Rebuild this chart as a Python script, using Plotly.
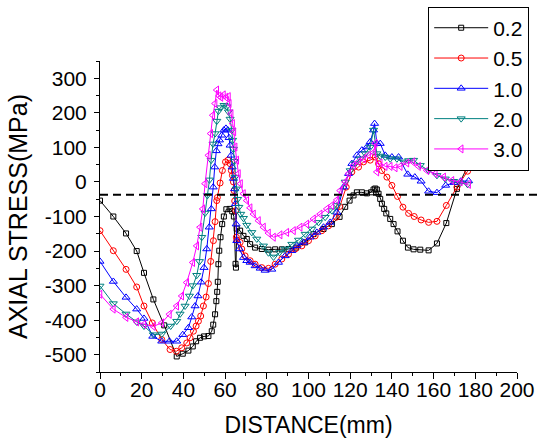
import plotly.graph_objects as go

# ---- data ----
series_names = ["0.2", "0.5", "1.0", "2.0", "3.0"]

x_02 = [0, 6.4, 12.5, 17.6, 21.1, 25.6, 30.8, 36.8, 39.7, 42.4, 44.5, 46.1, 48, 49.9, 52, 53.6,
        54.3, 55.2, 55.8, 56.2, 56.5, 56.8, 57.2, 57.8, 58.6, 59.4, 60.6, 62.2, 63.4, 64.2, 65.0,
        65.2, 65.6, 67.2, 68.8, 70.4, 72, 74.4, 77.6, 80.8, 84, 87.2, 90.4, 94.1, 98.4, 102.4,
        107.2, 111.2, 114.9, 117.6, 119.7, 121.6, 123.2, 125.6, 128, 130, 131.2, 132, 132.8,
        133.6, 134.4, 135.2, 136.3, 137.3, 139.2, 140.8, 142.7, 145.3, 147.7, 150.4, 153.6,
        157.6, 161.6, 166.1, 171.2, 176.3]
y_02 = [-54, -100, -149, -200, -263, -340, -415, -505, -497, -488, -476, -461, -451, -447, -446, -432,
        -413, -383, -345, -318, -289, -238, -199, -160, -122, -100, -79, -78, -85, -100, -237,
        -248, -135, -141, -156, -165, -180, -190, -194, -196, -195, -195, -194, -190, -175, -151,
        -136, -122, -101, -72, -54, -39, -30, -30, -33, -30, -22, -19, -22,
        -34, -49, -63, -78, -91, -107, -122, -143, -170, -190, -195, -196,
        -198, -178, -119, -20, 45]

x_05 = [0, 6.4, 12.5, 17.6, 21.1, 25.1, 29.6, 33.6, 36.6, 39.2, 41.6, 43.2, 44.8, 46.1, 47.2, 48.3,
        49.6, 50.9, 52, 53.1, 54.4, 55.2, 56, 56.3, 57.6, 58.7, 60.2, 61.4, 62.4, 63, 63.5, 64,
        64.3, 64.6, 65.1, 65.4, 65.6, 67.2, 68, 69.6, 72, 74.4, 77.6, 80.8, 84, 87.2, 90.4, 93.6,
        96.8, 100, 103.2, 106.4, 109.6, 113.3, 114.9, 118.1, 120.8, 124, 126.4, 129.6, 132,
        133.6, 135.2, 137.6, 140, 142.7, 145.3, 148, 150.7, 154, 157.6, 161.6, 166.1, 171.2, 176.3]
y_05 = [-141, -199, -253, -304, -359, -408, -456, -485, -490, -480, -466, -451, -432, -417, -403, -388,
        -359, -333, -294, -230, -170, -115, -54, -45, -3, 33, 58, 63, 53, 33, 19, 0,
        -25, -55, -83, -160, -168, -175, -194, -214, -228, -238, -248, -250, -238, -223, -209, -194,
        -185, -170, -156, -141, -127, -102, -71, -15, 29, 43, 58, 63, 72,
        53, 33, 14, -10, -42, -73, -91, -100, -110, -117, -114, -68, -15, 31]

x_10 = [0, 6.4, 12.5, 17.6, 21.1, 25.3, 29.6, 33.3, 36.8, 39.7, 42.4, 44, 45.6, 47, 48.5, 49.9,
        51.2, 52.4, 53.4, 54.3, 55, 55.8, 56.6, 57.3, 58.4, 59.4, 60.4, 61.3, 61.9, 62.4, 62.9,
        63.4, 64, 64.6, 65, 65.3, 65.6, 66.9, 68.8, 70.4, 72, 74.4, 76.8, 79.2, 82.4, 85.6, 88.8,
        92, 94.4, 97.6, 100.8, 104, 107.2, 110.4, 113.6, 116.8, 119.2, 120.8, 123.2, 125.6, 128,
        129.6, 131.2, 131.7, 132.8, 134.4, 136.8, 140, 143.2, 147.6, 151, 154, 157.6, 161.6,
        165.8, 169.8, 173, 176.8]
y_10 = [-230, -288, -334, -368, -395, -447, -461, -461, -461, -442, -422, -391, -359, -330, -290, -248,
        -194, -131, -78, -15, 43, 90, 110, 121, 135, 150, 155, 150, 128, 106, 77,
        43, 10, -20, -63, -122, -170, -194, -219, -228, -233, -243, -250, -256, -253, -233, -214,
        -199, -185, -175, -160, -146, -131, -117, -88, -15, 24, 53, 77, 92, 101,
        116, 150, 169, 111, 111, 77, 72, 72, 22, 14, 2, -27, -31,
        -10, -2, 2, 3]

x_20 = [0, 6.4, 12.5, 17.6, 21.1, 25.6, 29.6, 33.9, 36.8, 38.4, 40.8, 42.9, 44.5, 46.4, 47.7, 48.8,
        50.4, 51.5, 52.5, 53.3, 54.2, 55.2, 56, 56.8, 57.7, 59.5, 60.8, 61.6, 62.4, 63.2, 63.6,
        64, 64.4, 64.8, 65.4, 66, 66.6, 67.5, 68.8, 70.4, 72.8, 75.2, 78.4, 80.8, 83.2, 86.1,
        88.8, 92, 95.2, 98.4, 101.6, 104.8, 108, 111.2, 113.6, 117.6, 120, 122.4, 124.8, 127.2,
        129.6, 131.2, 132.8, 134.4, 136.8, 139.2, 142.4, 145.6, 148, 150.4, 153.6, 157.6, 161.6,
        165.6, 169.6, 172.8, 176.3]
y_20 = [-301, -352, -382, -405, -417, -442, -440, -417, -403, -382, -359, -330, -300, -270, -230, -160,
        -90, -39, 6, 63, 110, 140, 176, 205, 215, 222, 218, 203, 182, 150, 121,
        95, 60, 14, -20, -50, -73, -93, -105, -125, -146, -165, -185, -205, -217, -204,
        -194, -180, -168, -151, -136, -117, -102, -83, -68, 0, 33, 53, 67, 82,
        101, 150, 82, 75, 72, 67, 67, 58, 62, 63, 48, 33, 19,
        9, 2, -3, -7]

x_30 = [0, 6.4, 12.5, 17.6, 21.1, 25.6, 29.6, 33.3, 36.8, 39.2, 41.6, 44.5, 46.4, 48, 49.3, 50.4,
        52, 53.1, 54.1, 55.2, 56, 57.1, 58, 59.2, 60.4, 61.6, 62, 62.9, 63.6, 64.2, 64.8, 65.6,
        66.4, 67.4, 68.8, 70.4, 72, 73.6, 76, 78.4, 80.8, 83.2, 86.4, 89.6, 92.8, 96, 99.2,
        102.4, 105.6, 108.8, 111.2, 113.6, 115.2, 117.6, 119.2, 121.6, 124, 126.4, 128.8, 131.2,
        132, 132.8, 134.4, 136.8, 139.2, 141.6, 144, 147.2, 150.1, 152.8, 156.8, 160.8, 164.8,
        168.8, 172.8, 176.8]
y_30 = [-325, -368, -392, -405, -412, -418, -408, -383, -359, -330, -291, -233, -185, -131, -78, -5,
        77, 140, 193, 227, 266, 249, 245, 252, 245, 247, 227, 198, 169, 145, 101, 63,
        24, -5, -34, -54, -75, -93, -112, -131, -148, -160, -153, -146, -141, -131, -122,
        -107, -93, -78, -68, -52, -25, 0, 24, 48, 58, 67, 77, 85,
        112, 29, 55, 45, 45, 41, 45, 55, 58, 45, 33, 24, 14,
        4, 0, -7]

reference_stress = -37  # dashed horizontal level (MPa)

x_ticks = [0, 20, 40, 60, 80, 100, 120, 140, 160, 180, 200]
y_ticks = [-500, -400, -300, -200, -100, 0, 100, 200, 300]
y_tick_labels = ["-500", "-400", "-300", "-200", "-100", "0", "100", "200", "300"]

# ---- styling ----
xs = [x_02, x_05, x_10, x_20, x_30]
ys = [y_02, y_05, y_10, y_20, y_30]
colors = ["#000000", "#FF0000", "#0000FF", "#008080", "#FF00FF"]
symbols = ["square-open", "circle-open", "triangle-up-open", "triangle-down-open", "triangle-left-open"]
sizes = [5, 6, 7, 7, 7]

FONT = "Liberation Sans, Arial, sans-serif"

fig = go.Figure()
for name, x, y, c, s, sz in zip(series_names, xs, ys, colors, symbols, sizes):
    fig.add_trace(go.Scatter(
        x=x, y=y, name=name, mode="lines+markers",
        line=dict(color=c, width=1),
        marker=dict(symbol=s, size=sz, color=c, line=dict(color=c, width=1)),
    ))

fig.add_shape(type="line", xref="paper", yref="y", x0=0, x1=1.06,
              y0=reference_stress, y1=reference_stress,
              line=dict(color="black", width=2, dash="8px,5px"))

fig.update_layout(
    width=538, height=446,
    margin=dict(l=100, r=21, t=61, b=74, autoexpand=False),
    paper_bgcolor="white", plot_bgcolor="white",
    font=dict(family=FONT, color="black"),
    showlegend=True,
    legend=dict(
        x=0.787, y=1.175, xanchor="left", yanchor="top",
        bgcolor="white", bordercolor="black", borderwidth=1,
        font=dict(size=21, family=FONT, color="black"),
        itemwidth=54, tracegroupgap=0,
    ),
    xaxis=dict(
        range=[0, 200], tickmode="array", tickvals=x_ticks,
        showline=True, linecolor="black", linewidth=1, mirror=False,
        ticks="outside", ticklen=6, tickwidth=1, tickcolor="black",
        minor=dict(tickmode="linear", tick0=0, dtick=10, ticks="outside", ticklen=3,
                   tickcolor="black", tickwidth=1),
        showgrid=False, zeroline=False,
        tickfont=dict(size=21, family=FONT, color="black"),
        ticklabelstandoff=-7,
        title=dict(text="DISTANCE(mm)", font=dict(size=23, family=FONT, color="black"), standoff=16),
        automargin=False,
    ),
    yaxis=dict(
        range=[-550, 350], tickmode="array", tickvals=y_ticks, ticktext=y_tick_labels,
        showline=True, linecolor="black", linewidth=1, mirror=False,
        ticks="outside", ticklen=5, tickwidth=1, tickcolor="black",
        minor=dict(tickmode="linear", tick0=-550, dtick=50, ticks="outside", ticklen=3,
                   tickcolor="black", tickwidth=1),
        showgrid=False, zeroline=False,
        tickfont=dict(size=21, family=FONT, color="black"),
        ticklabelstandoff=3,
        title=dict(text="AXIAL STRESS(MPa)", font=dict(size=25, family=FONT, color="black"), standoff=10),
        automargin=False,
    ),
)

fig.write_html("out.html", config={"displayModeBar": False},
               post_script="document.body.style.margin='0';")
